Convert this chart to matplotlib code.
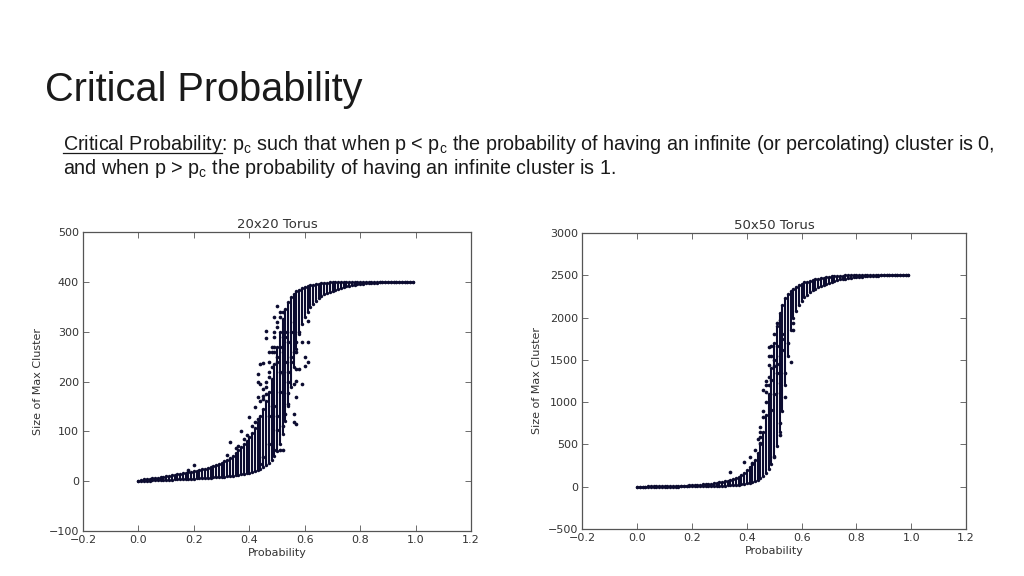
import matplotlib
matplotlib.use('Agg')
import matplotlib.pyplot as plt
from matplotlib.lines import Line2D

# probability grid used in the experiments
probs = [0.00, 0.01, 0.02, 0.03, 0.04, 0.05, 0.06, 0.07, 0.08, 0.09,
         0.10, 0.11, 0.12, 0.13, 0.14, 0.15, 0.16, 0.17, 0.18, 0.19,
         0.20, 0.21, 0.22, 0.23, 0.24, 0.25, 0.26, 0.27, 0.28, 0.29,
         0.30, 0.31, 0.32, 0.33, 0.34, 0.35, 0.36, 0.37, 0.38, 0.39,
         0.40, 0.41, 0.42, 0.43, 0.44, 0.45, 0.46, 0.47, 0.48, 0.49,
         0.50, 0.51, 0.52, 0.53, 0.54, 0.55, 0.56, 0.57, 0.58, 0.59,
         0.60, 0.61, 0.62, 0.63, 0.64, 0.65, 0.66, 0.67, 0.68, 0.69,
         0.70, 0.71, 0.72, 0.73, 0.74, 0.75, 0.76, 0.77, 0.78, 0.79,
         0.80, 0.81, 0.82, 0.83, 0.84, 0.85, 0.86, 0.87, 0.88, 0.89,
         0.90, 0.91, 0.92, 0.93, 0.94, 0.95, 0.96, 0.97, 0.98, 0.99]

# 20x20 torus: dense range of max cluster size per probability
low20 = [0, 1, 1, 1, 1, 2, 2, 2, 3, 3,
         3, 3, 3, 4, 4, 4, 4, 5, 5, 5,
         5, 6, 6, 6, 7, 7, 7, 8, 8, 8,
         9, 9, 10, 10, 11, 12, 13, 14, 15, 16,
         17, 18, 20, 22, 25, 28, 32, 36, 42, 50,
         60, 75, 95, 120, 150, 190, 230, 265, 295, 315,
         330, 340, 350, 356, 362, 367, 371, 375, 378, 380,
         382, 384, 386, 388, 389, 391, 392, 393, 394, 395,
         396, 396, 397, 397, 398, 398, 398, 399, 399, 399,
         399, 399, 399, 400, 400, 400, 400, 400, 400, 400]
high20 = [1, 3, 4, 5, 5, 6, 7, 7, 8, 9,
          10, 11, 12, 13, 14, 15, 16, 17, 18, 19,
          20, 21, 22, 24, 25, 27, 29, 31, 33, 35,
          37, 40, 43, 47, 51, 56, 62, 68, 74, 80,
          88, 96, 106, 118, 130, 145, 160, 180, 205, 235,
          270, 300, 325, 345, 360, 370, 376, 381, 384, 387,
          389, 391, 393, 394, 395, 396, 397, 398, 398, 399,
          399, 400, 400, 400, 400, 400, 400, 400, 400, 400,
          400, 400, 400, 400, 400, 400, 400, 400, 400, 400,
          400, 400, 400, 400, 400, 400, 400, 400, 400, 400]
# 20x20 torus: scattered runs outside the dense range
sp_p20 = [0.50, 0.49, 0.46, 0.46, 0.44, 0.45, 0.43, 0.43, 0.44, 0.43,
          0.42, 0.40, 0.37, 0.33, 0.32, 0.20, 0.18, 0.57, 0.59, 0.61,
          0.61, 0.60, 0.57, 0.57, 0.58, 0.56, 0.59, 0.57, 0.56, 0.56,
          0.57, 0.53, 0.52, 0.51, 0.49, 0.54, 0.54, 0.52, 0.60, 0.57,
          0.50, 0.47, 0.45, 0.44, 0.61, 0.48, 0.47, 0.49, 0.50, 0.51,
          0.52, 0.53, 0.48, 0.46, 0.50, 0.55, 0.47, 0.49, 0.51, 0.45,
          0.44, 0.45, 0.46, 0.47, 0.48, 0.49, 0.50, 0.51, 0.52, 0.53,
          0.54, 0.55, 0.56, 0.47, 0.48, 0.49, 0.50, 0.51, 0.52, 0.53,
          0.54, 0.55, 0.46, 0.45, 0.48, 0.50, 0.52, 0.54, 0.56, 0.58,
          0.42, 0.43, 0.41, 0.39, 0.38, 0.36, 0.35, 0.47, 0.49, 0.51]
sp_y20 = [352, 330, 302, 287, 235, 237, 215, 199, 195, 169,
          149, 129, 100, 79, 52, 32, 23, 279, 279, 279,
          239, 232, 259, 225, 225, 195, 195, 169, 135, 119,
          115, 135, 62, 62, 63, 155, 177, 215, 249, 202,
          102, 75, 49, 35, 322, 260, 240, 300, 250, 220,
          260, 290, 180, 190, 320, 240, 210, 270, 340, 170,
          160, 185, 200, 220, 270, 290, 310, 330, 340, 300,
          280, 300, 320, 260, 230, 260, 240, 270, 290, 240,
          220, 250, 175, 165, 150, 130, 110, 200, 260, 300,
          118, 125, 110, 92, 85, 70, 66, 130, 150, 180]

# 50x50 torus: dense range of max cluster size per probability
low50 = [0, 0, 0, 0, 0, 0, 0, 0, 0, 0,
         1, 1, 1, 2, 2, 2, 3, 3, 3, 4,
         4, 5, 5, 6, 6, 7, 8, 8, 9, 10,
         11, 12, 13, 15, 17, 19, 21, 24, 28, 33,
         38, 45, 55, 65, 80, 100, 125, 160, 210, 270,
         360, 480, 650, 900, 1200, 1550, 1850, 2000, 2080, 2150,
         2200, 2240, 2270, 2300, 2320, 2340, 2360, 2375, 2390, 2400,
         2410, 2420, 2430, 2440, 2450, 2455, 2460, 2465, 2470, 2475,
         2478, 2481, 2484, 2487, 2490, 2492, 2494, 2495, 2496, 2497,
         2498, 2498, 2499, 2499, 2500, 2500, 2500, 2500, 2500, 2500]
high50 = [1, 1, 2, 2, 3, 3, 4, 4, 5, 5,
          6, 6, 7, 8, 9, 10, 11, 12, 13, 15,
          17, 19, 21, 24, 27, 30, 33, 37, 41, 46,
          52, 58, 65, 73, 82, 92, 105, 120, 140, 165,
          195, 230, 270, 320, 400, 500, 650, 850, 1100, 1400,
          1700, 1900, 2050, 2150, 2230, 2280, 2310, 2340, 2360, 2380,
          2400, 2415, 2425, 2435, 2445, 2455, 2460, 2465, 2470, 2475,
          2480, 2485, 2490, 2492, 2494, 2496, 2498, 2500, 2500, 2500,
          2500, 2500, 2500, 2500, 2500, 2500, 2500, 2500, 2500, 2500,
          2500, 2500, 2500, 2500, 2500, 2500, 2500, 2500, 2500, 2500]
# 50x50 torus: scattered runs outside the dense range
sp_p50 = [0.39, 0.41, 0.45, 0.45, 0.46, 0.47, 0.48, 0.48, 0.47, 0.49,
          0.51, 0.52, 0.51, 0.54, 0.54, 0.52, 0.52, 0.50, 0.56, 0.57,
          0.57, 0.53, 0.49, 0.49, 0.50, 0.52, 0.52, 0.46, 0.45, 0.43,
          0.42, 0.34, 0.48, 0.50, 0.53, 0.47, 0.46, 0.47, 0.48, 0.49,
          0.50, 0.51, 0.52, 0.53, 0.55, 0.44, 0.45, 0.48, 0.50, 0.51]
sp_y50 = [296, 355, 711, 513, 1145, 1125, 1540, 1441, 1007, 908,
          1935, 1975, 1659, 1343, 1066, 750, 612, 355, 1469, 1856,
          1935, 1619, 1659, 1264, 1422, 1224, 1106, 829, 592, 434,
          276, 178, 1300, 1800, 1750, 1250, 900, 1200, 1650, 1550,
          1500, 1350, 1550, 1800, 1700, 560, 650, 1200, 1100, 1450]

dot_color = '#0c0c30'


def draw_panel(ax, low, high, sp_p, sp_y, title, ylim, yticks):
    ax.vlines(probs, low, high, color=dot_color, linewidth=1.5)
    ax.scatter(probs, low, s=6, color=dot_color, linewidths=0)
    ax.scatter(probs, high, s=6, color=dot_color, linewidths=0)
    ax.scatter(sp_p, sp_y, s=7, color=dot_color, linewidths=0)
    ax.set_xlim(-0.2, 1.2)
    ax.set_ylim(*ylim)
    ax.set_xticks([-0.2, 0.0, 0.2, 0.4, 0.6, 0.8, 1.0, 1.2])
    ax.set_yticks(yticks)
    ax.set_title(title, fontsize=9.5, color='#333333', pad=3)
    ax.set_xlabel('Probability', fontsize=8, color='#333333', labelpad=2)
    ax.set_ylabel('Size of Max Cluster', fontsize=8, color='#333333', labelpad=4)
    ax.tick_params(direction='in', top=True, right=True, length=4, width=0.6,
                   labelsize=8, labelcolor='#333333', color='#555555', pad=3)
    for sp in ax.spines.values():
        sp.set_color('#555555')
        sp.set_linewidth(0.9)


fig = plt.figure(figsize=(10.24, 5.76), dpi=100)
fig.patch.set_facecolor('white')

ax1 = fig.add_axes([0.0811, 0.0781, 0.379, 0.519])
draw_panel(ax1, low20, high20, sp_p20, sp_y20, '20x20 Torus', (-100, 500),
           [-100, 0, 100, 200, 300, 400, 500])

ax2 = fig.add_axes([0.5688, 0.0816, 0.3745, 0.514])
draw_panel(ax2, low50, high50, sp_p50, sp_y50, '50x50 Torus', (-500, 3000),
           [-500, 0, 500, 1000, 1500, 2000, 2500, 3000])

# slide heading and definition text
body_font = ['Liberation Sans', 'DejaVu Sans']
fig.text(45 / 1024, 1 - 101 / 576, 'Critical Probability', fontsize=28.6,
         family=body_font, color='#1a1a1a', va='baseline')

x0 = 63 / 1024
fs = 14.2
line1 = ('Critical Probability: p$_\\mathregular{c}$ such that when p < p$_\\mathregular{c}$ '
         'the probability of having an infinite (or percolating) cluster is 0,')
line2 = 'and when p > p$_\\mathregular{c}$ the probability of having an infinite cluster is 1.'
fig.text(x0, 1 - 150 / 576, line1, fontsize=fs, family=body_font,
         color='#1a1a1a', va='baseline')
fig.text(x0, 1 - 174 / 576, line2, fontsize=fs, family=body_font,
         color='#1a1a1a', va='baseline')

# underline the defined term
probe = fig.text(x0, 1 - 150 / 576, 'Critical Probability', fontsize=fs,
                 family=body_font, va='baseline', alpha=0)
fig.canvas.draw()
bb = probe.get_window_extent(renderer=fig.canvas.get_renderer())
x1 = bb.x1 / fig.bbox.width
yl = 1 - 153 / 576
fig.add_artist(Line2D([x0, x1], [yl, yl], transform=fig.transFigure,
                      color='#1a1a1a', linewidth=0.9))

fig.savefig('out.png', dpi=100)
